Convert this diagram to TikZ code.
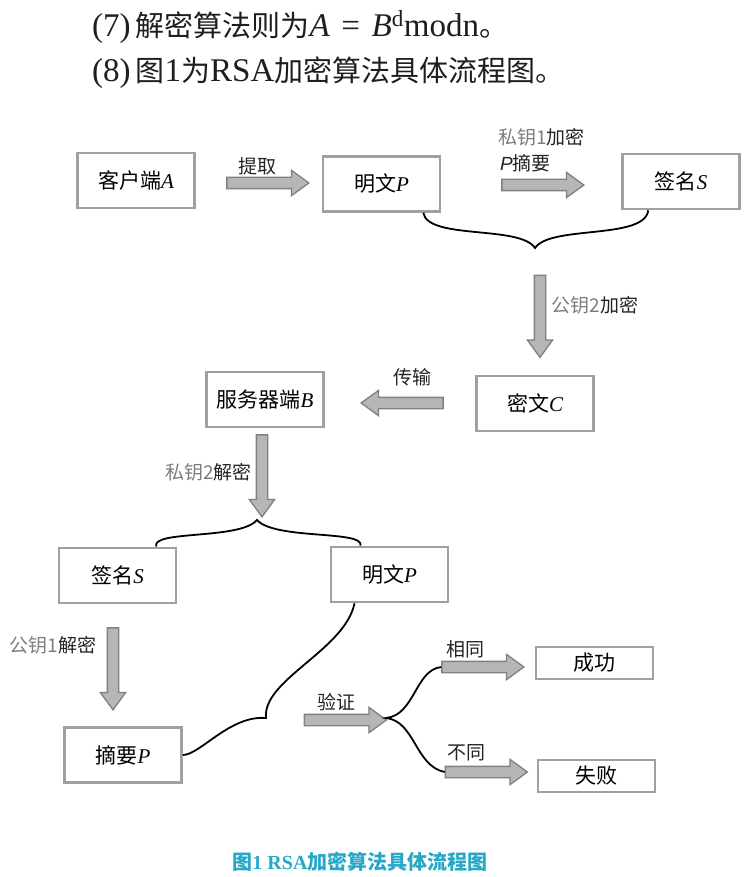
\documentclass[tikz,border=0pt]{standalone}
\usepackage{fontspec}
\setmainfont{Liberation Serif}
\newfontfamily\cjk{Noto Sans CJK SC}
\newfontfamily\lsans{Liberation Sans}
\newfontfamily\bigrm{Liberation Serif}[Scale=1.14]
\usetikzlibrary{shapes.arrows}

\definecolor{boxgray}{RGB}{160,160,160}
\definecolor{arrowgray}{RGB}{182,182,182}
\definecolor{edgegray}{RGB}{128,128,128}
\definecolor{tagblack}{RGB}{35,35,35}
\definecolor{keygray}{RGB}{125,125,125}
\definecolor{capteal}{RGB}{38,168,198}
\definecolor{textblack}{RGB}{30,30,30}

\newcommand{\ltr}[1]{{\rmfamily\itshape #1}}

\begin{document}
\begin{tikzpicture}[x=1pt, y=-1pt,
    box/.style={
        rectangle,
        draw=boxgray,
        line width=2.6pt,
        fill=white,
        minimum width=117pt,
        minimum height=55pt,
        inner sep=0pt,
        font=\cjk\fontsize{21}{24}\selectfont
    },
    flat/.style={box, minimum height=32pt},
    blk/.style={
        single arrow,
        draw=edgegray,
        fill=arrowgray,
        line width=1.3pt,
        minimum height=82pt,
        inner xsep=0pt,
        inner ysep=5pt,
        single arrow head extend=7pt,
        single arrow tip angle=72
    },
    tag/.style={font=\cjk\fontsize{19}{22}\selectfont, text=tagblack, inner sep=1pt},
    brace/.style={draw=black, line width=1.8pt},
    line/.style={anchor=west, inner sep=0pt, text=textblack, font=\cjk\fontsize{29}{36}\selectfont}
]
\useasboundingbox (0,0) rectangle (750,877);

% text above the chart
\node[line] (l7) at (92,27) {{\bigrm (7)}\,解密算法则为{\bigrm\itshape A\hspace{0.35em}\upshape =\hspace{0.35em}\itshape B}\textsuperscript{\bigrm d}{\bigrm modn}。};
\node[line] (l8) at (92,73) {{\bigrm (8)}\,图{\bigrm 1}为{\bigrm RSA}加密算法具体流程图。};

% boxes
\node[box] (cliA) at (136,180.5) {客户端\ltr{A}};
\node[box] (ming1) at (381.5,184) {明文\ltr{P}};
\node[box] (sign1) at (681,181.5) {签名\ltr{S}};
\node[box] (miwC) at (535,403.5) {密文\ltr{C}};
\node[box] (servB) at (265,399.5) {服务器端\ltr{B}};
\node[box] (sign2) at (117.5,575.5) {签名\ltr{S}};
\node[box] (ming2) at (389.5,574.5) {明文\ltr{P}};
\node[box] (zhaiP) at (123,755) {摘要\ltr{P}};
\node[flat] (succ) at (594.5,663) {成功};
\node[flat] (fail) at (596.5,776) {失败};

% block arrows
\node[blk] (arrTiqu) at (264,183) {};
\node[blk] (arrSig) at (539,185) {};
\node[blk, rotate=-90] (arrEnc) at (540,312.5) {};
\node[blk, rotate=180] (arrSend) at (406,403) {};
\node[blk, rotate=-90] (arrDec) at (262,472) {};
\node[blk, rotate=-90] (arrPub) at (113,665) {};
\node[blk] (arrChk) at (341.5,720) {};
\node[blk] (arrSame) at (479,667) {};
\node[blk] (arrDiff) at (482.5,772) {};

% arrow labels
\node[tag] (tTiqu) at (257,166) {提取};
\node[tag, anchor=west] (tSig1) at (497,137) {{\color{keygray}私钥1}加密};
\node[tag, anchor=west] (tSig2) at (499,163) {{\lsans\itshape P}摘要};
\node[tag] (tEnc) at (595,305) {{\color{keygray}公钥2}加密};
\node[tag] (tSend) at (412,377) {传输};
\node[tag, anchor=east] (tDec) at (253,472) {{\color{keygray}私钥2}解密};
\node[tag] (tPub) at (53,645) {{\color{keygray}公钥1}解密};
\node[tag] (tChk) at (336,702) {验证};
\node[tag] (tSame) at (465,649) {相同};
\node[tag] (tDiff) at (466,753) {不同};

% braces
\coordinate (tipTop) at (535,248);
\coordinate (tipMid) at (257,520);
\coordinate (tipLow) at (266,718);
\coordinate (tipChk) at (386,718);

\draw[brace] ([xshift=-18pt]ming1.south east) .. controls (428,240) and (520,225) .. (tipTop)
    .. controls (550,225) and (645,240) .. ([xshift=27pt]sign1.south west);
\draw[brace] ([xshift=-21pt]sign2.north east) .. controls (150,530) and (240,540) .. (tipMid)
    .. controls (275,540) and (365,530) .. ([xshift=-29pt]ming2.north);
\draw[brace] (zhaiP.east) .. controls (200,755) and (230,715) .. (tipLow)
    .. controls (262,680) and (345,650) .. ([xshift=-35pt]ming2.south);
\draw[brace] (arrSame.tail) .. controls (415,670) and (415,715) .. (tipChk)
    .. controls (415,721) and (415,766) .. (arrDiff.tail);

% caption
\node[font=\cjk\bfseries\fontsize{20}{24}\selectfont, text=capteal] (cap) at (360,862) {图{\rmfamily 1 RSA}加密算法具体流程图};

\end{tikzpicture}
\end{document}
